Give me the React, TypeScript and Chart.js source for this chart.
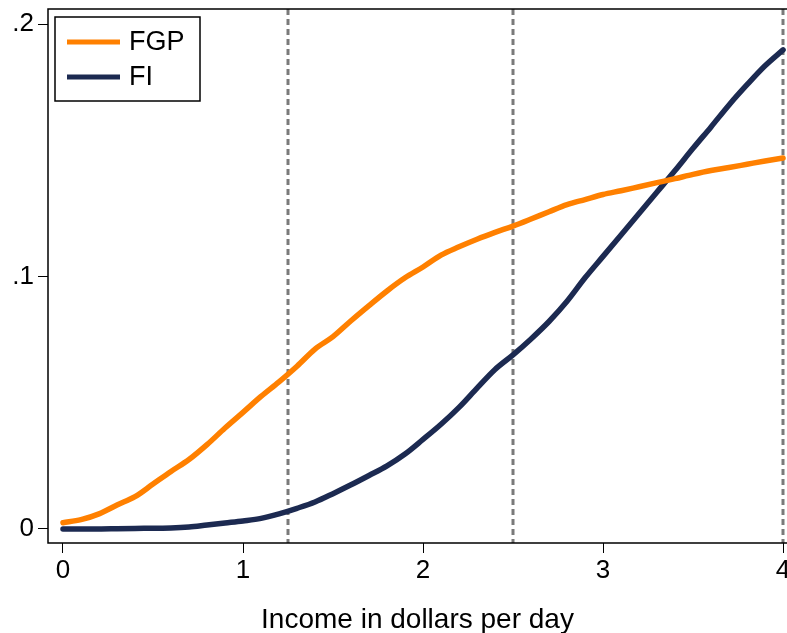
import React, { useEffect, useRef } from "react";
import { Chart, registerables } from "chart.js";

Chart.register(...registerables);

const xValues = [
  0.0, 0.1, 0.2, 0.3, 0.4, 0.5, 0.6, 0.7, 0.8, 0.9,
  1.0, 1.1, 1.2, 1.3, 1.4, 1.5, 1.6, 1.7, 1.8, 1.9,
  2.0, 2.1, 2.2, 2.3, 2.4, 2.5, 2.6, 2.7, 2.8, 2.9,
  3.0, 3.1, 3.2, 3.3, 3.4, 3.5, 3.6, 3.7, 3.8, 3.9, 4.0,
];
const fgpValues = [
  0.0025, 0.0037, 0.006, 0.0095, 0.0128, 0.0178, 0.0228, 0.0275, 0.0334, 0.04,
  0.0462, 0.0525, 0.0583, 0.0645, 0.0713, 0.0762, 0.0825, 0.0885, 0.0943, 0.0995,
  0.1038, 0.1085, 0.1118, 0.1148, 0.1175, 0.12, 0.1228, 0.1257, 0.1285, 0.1305,
  0.1325, 0.134, 0.1356, 0.1372, 0.1388, 0.1405, 0.142, 0.1432, 0.1445, 0.1458, 0.147,
];
const fiValues = [
  0.0, 0.0, 0.0, 0.0001, 0.0002, 0.0003, 0.0004, 0.0008, 0.0016, 0.0024,
  0.0032, 0.0042, 0.006, 0.0082, 0.0107, 0.014, 0.0175, 0.0212, 0.025, 0.0297,
  0.0355, 0.0415, 0.0482, 0.0558, 0.0632, 0.069, 0.0753, 0.0822, 0.0902, 0.0995,
  0.108, 0.1165, 0.125, 0.1335, 0.142, 0.1508, 0.1593, 0.168, 0.176, 0.1835, 0.1898,
];
const seriesNames = ["FGP", "FI"];
const seriesColors = ["#ff8000", "#1c2a51"];
const xTickValues = [0, 1, 2, 3, 4];
const xTickLabels = ["0", "1", "2", "3", "4"];
const yTickValues = [0, 0.1, 0.2];
const yTickLabels = ["0", ".1", ".2"];
const refLines = [1.25, 2.5, 4];
const xTitle = "Income in dollars per day";

const FONT = "'Liberation Sans', Arial, Helvetica, sans-serif";

const framePlugin = {
  id: "frameAndRefs",
  beforeDatasetsDraw(chart: any) {
    const { ctx, chartArea, scales } = chart;
    ctx.save();
    ctx.strokeStyle = "#7a7a7a";
    ctx.lineWidth = 3;
    ctx.setLineDash([6, 4]);
    refLines.forEach((v) => {
      const px = Math.round(scales.x.getPixelForValue(v));
      ctx.beginPath();
      ctx.moveTo(px, chartArea.top);
      ctx.lineTo(px, chartArea.bottom);
      ctx.stroke();
    });
    ctx.restore();
  },
  afterDraw(chart: any) {
    const { ctx, chartArea } = chart;
    ctx.save();
    ctx.strokeStyle = "#000";
    ctx.lineWidth = 1.5;
    ctx.beginPath();
    ctx.moveTo(chartArea.right + 2, chartArea.top);
    ctx.lineTo(chartArea.left, chartArea.top);
    ctx.lineTo(chartArea.left, chartArea.bottom);
    ctx.lineTo(chartArea.right + 2, chartArea.bottom);
    ctx.stroke();

    // legend
    const bx = chartArea.left + 7;
    const by = chartArea.top + 8;
    const bw = 145;
    const bh = 84;
    ctx.fillStyle = "#fff";
    ctx.fillRect(bx, by, bw, bh);
    ctx.lineWidth = 1.5;
    ctx.strokeStyle = "#000";
    ctx.strokeRect(bx, by, bw, bh);
    chart.data.datasets.forEach((ds: any, i: number) => {
      const cy = by + 25 + i * 35;
      ctx.strokeStyle = ds.borderColor;
      ctx.lineWidth = 5;
      ctx.beginPath();
      ctx.moveTo(bx + 12, cy);
      ctx.lineTo(bx + 65, cy);
      ctx.stroke();
      ctx.fillStyle = "#000";
      ctx.font = `27px ${FONT}`;
      ctx.textBaseline = "middle";
      ctx.textAlign = "left";
      ctx.fillText(ds.label, bx + 74, cy + 1);
    });
    ctx.restore();
  },
};

export default function App() {
  const canvasRef = useRef<HTMLCanvasElement | null>(null);

  useEffect(() => {
    document.body.style.margin = "0";
    const canvas = canvasRef.current;
    if (!canvas) return;
    const mk = (i: number, vals: number[]) => ({
      label: seriesNames[i],
      data: xValues.map((x, j) => ({ x, y: vals[j] })),
      borderColor: seriesColors[i],
      backgroundColor: seriesColors[i],
      borderWidth: 5.5,
      pointRadius: 0,
      cubicInterpolationMode: "monotone" as const,
      borderCapStyle: "round" as const,
      borderJoinStyle: "round" as const,
    });
    const chart = new Chart(canvas, {
      type: "line",
      data: { datasets: [mk(0, fgpValues), mk(1, fiValues)] },
      options: {
        responsive: false,
        animation: false,
        devicePixelRatio: 1,
        layout: { padding: { top: 9, left: 0, right: 0, bottom: 0 } },
        plugins: {
          legend: { display: false },
          tooltip: { enabled: false },
        },
        scales: {
          x: {
            type: "linear",
            min: -0.0833,
            max: 4.022,
            border: { display: false },
            grid: {
              display: true,
              drawOnChartArea: false,
              drawTicks: true,
              tickLength: 10,
              color: "#000",
              lineWidth: 1,
            },
            ticks: {
              color: "#000",
              font: { family: FONT, size: 26 },
              padding: 2,
              maxRotation: 0,
              autoSkip: false,
              callback: (v: any) => {
                const idx = xTickValues.indexOf(Number(v));
                return idx >= 0 ? xTickLabels[idx] : "";
              },
            },
            title: {
              display: true,
              text: xTitle,
              color: "#000",
              font: { family: FONT, size: 28 },
              padding: { top: 0, bottom: -4 },
            },
            afterBuildTicks: (scale: any) => {
              scale.ticks = xTickValues.map((v) => ({ value: v }));
            },
            afterFit: (scale: any) => {
              scale.height = 90;
              scale.paddingLeft = 0;
              scale.paddingRight = 0;
            },
          },
          y: {
            type: "linear",
            min: -0.00555,
            max: 0.206,
            border: { display: false },
            grid: {
              display: true,
              drawOnChartArea: false,
              drawTicks: true,
              tickLength: 10,
              color: "#000",
              lineWidth: 1,
            },
            ticks: {
              color: "#000",
              font: { family: FONT, size: 26 },
              padding: 4,
              callback: (v: any) => {
                const idx = yTickValues.findIndex((t) => Math.abs(t - Number(v)) < 1e-9);
                return idx >= 0 ? yTickLabels[idx] : "";
              },
            },
            afterBuildTicks: (scale: any) => {
              scale.ticks = yTickValues.map((v) => ({ value: v }));
            },
            afterFit: (scale: any) => {
              scale.width = 48;
              scale.paddingTop = 0;
              scale.paddingBottom = 0;
            },
          },
        },
      },
      plugins: [framePlugin],
    });
    return () => chart.destroy();
  }, []);

  return (
    <div style={{ position: "absolute", left: 0, top: 0, width: 787, height: 633, background: "#fff" }}>
      <canvas ref={canvasRef} width={787} height={633} style={{ width: 787, height: 633, display: "block" }} />
    </div>
  );
}
